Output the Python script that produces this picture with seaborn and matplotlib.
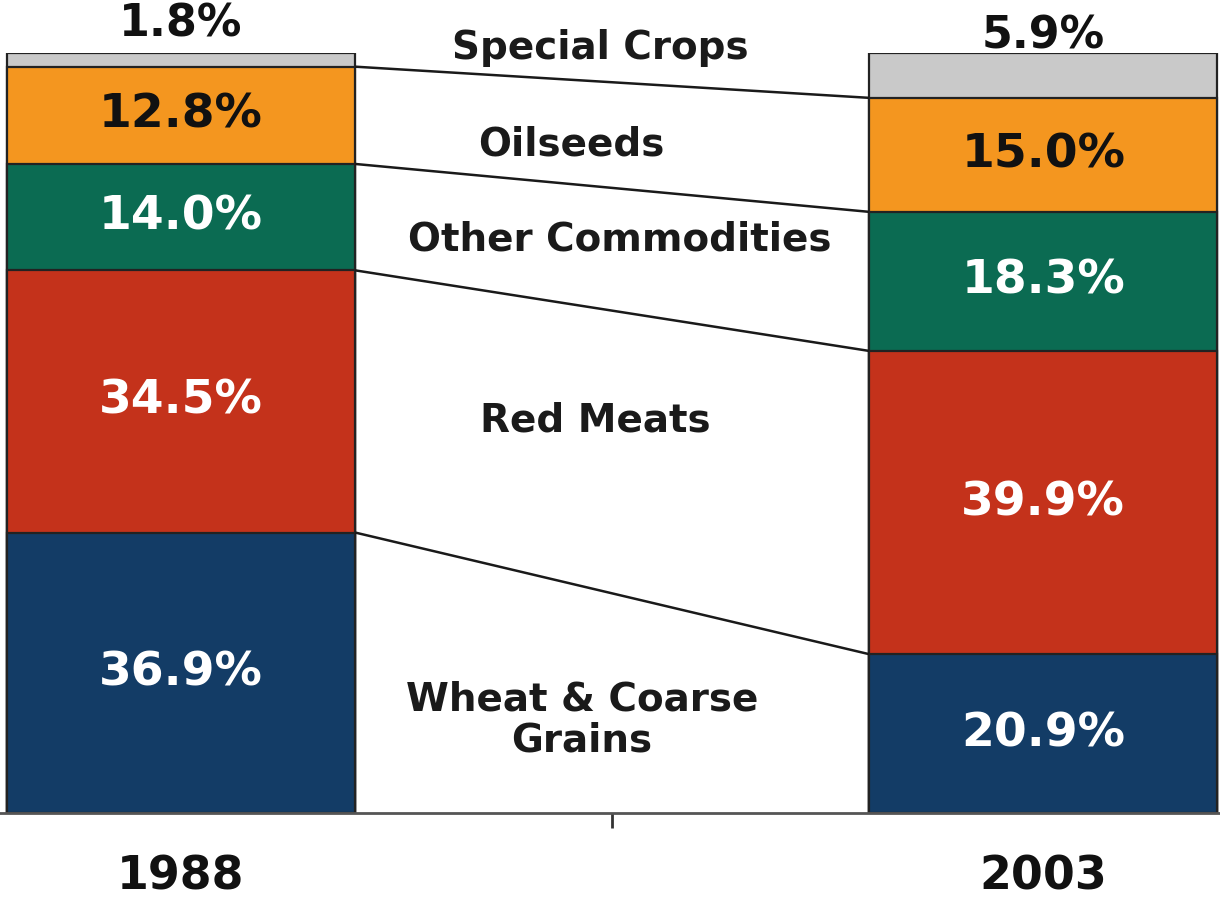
import matplotlib
matplotlib.use("Agg")
import matplotlib.pyplot as plt
import matplotlib.transforms as mtransforms
import numpy as np
import pandas as pd
import seaborn as sns

# --- data -------------------------------------------------------------
years = ["1988", "2003"]
# segments listed bottom -> top
segments = ["Wheat & Coarse\nGrains", "Red Meats", "Other Commodities",
            "Oilseeds", "Special Crops"]
share_1988 = [36.9, 34.5, 14.0, 12.8, 1.8]
share_2003 = [20.9, 39.9, 18.3, 15.0, 5.9]
seg_colors = ["#133c66", "#c4321b", "#0b6b52", "#f4961f", "#c9c9c9"]
value_text_colors = ["white", "white", "white", "#111111", "#111111"]

# --- styling / layout -------------------------------------------------
sns.set_theme(style="white")
plt.rcParams["font.family"] = ["DejaVu Sans"]

W_PX, H_PX = 1220, 902
fig = plt.figure(figsize=(W_PX / 100, H_PX / 100), dpi=100)
ax = fig.add_axes([0.0, 89 / H_PX, 1.0, 760 / H_PX])

bar_w = 0.404
shares = np.array([share_1988, share_2003])          # (year, segment)
cum = np.cumsum(shares, axis=1)                      # top edge of each segment

# Draw cumulative bars from the tallest down so each segment shows its band
for k in range(len(segments) - 1, -1, -1):
    df = pd.DataFrame({"year": years, "top": cum[:, k]})
    sns.barplot(data=df, x="year", y="top", color=seg_colors[k],
                saturation=1, width=bar_w, edgecolor="#222222",
                linewidth=1.6, ax=ax)

# Connector lines between matching boundaries of the two bars
for k in range(len(segments) - 1):
    ax.plot([0 + bar_w / 2, 1 - bar_w / 2], [cum[0, k], cum[1, k]],
            color="#1a1a1a", lw=1.8, solid_capstyle="butt", zorder=3)

# Percent labels
bottoms = cum - shares
for i in range(len(years)):
    for k in range(len(segments)):
        val = shares[i, k]
        txt = f"{val:.1f}%"
        if k == len(segments) - 1:
            # thin top segment: label sits above the bar
            y = 103.8 if i == 0 else 102.2
            ax.text(i, y, txt, ha="center", va="center", fontsize=32,
                    fontweight="bold", color="#111111", clip_on=False,
                    zorder=5)
        else:
            y = bottoms[i, k] + val / 2
            ax.text(i, y, txt, ha="center", va="center", fontsize=34,
                    fontweight="bold", color=value_text_colors[k], zorder=5)

# Segment names between the bars
name_pos = [(0.465, 12.2), (0.480, 51.7), (0.509, 75.4), (0.453, 87.9),
            (0.486, 100.6)]
for name, (x, y) in zip(segments, name_pos):
    ax.text(x, y, name, ha="center", va="center", fontsize=28,
            fontweight="bold", color="#1a1a1a", linespacing=1.1,
            clip_on=False, zorder=5)

# Axes cosmetics
ax.set_xlim(-0.21, 1.205)
ax.set_ylim(0, 100)
for side in ["left", "right", "top"]:
    ax.spines[side].set_visible(False)
ax.spines["bottom"].set_color("#555555")
ax.spines["bottom"].set_linewidth(2.0)
ax.set_yticks([])
ax.set_xticks([0.5])
ax.set_xticklabels([""])
ax.tick_params(axis="x", direction="out", length=11, width=2,
               color="#333333", bottom=True)
ax.set_xlabel("")
ax.set_ylabel("")

# Year labels under the axis
trans = mtransforms.blended_transform_factory(ax.transData, fig.transFigure)
for i, yr in enumerate(years):
    ax.text(i, 1 - 877 / H_PX, yr, transform=trans, ha="center",
            va="center", fontsize=33, fontweight="bold",
            color="#111111")

fig.savefig("out.png", dpi=100, facecolor="white")
